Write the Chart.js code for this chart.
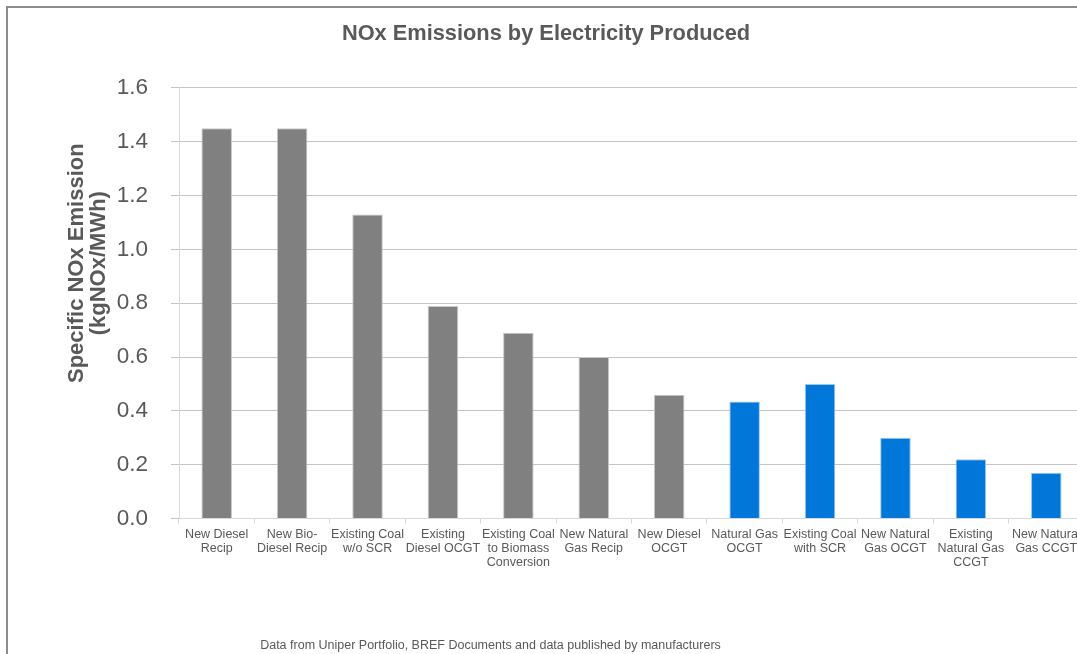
<!DOCTYPE html>
<html>
<head>
<meta charset="utf-8">
<script src="https://cdn.jsdelivr.net/npm/chart.js@4.4.1/dist/chart.umd.min.js"></script>
<style>
  html, body { margin: 0; padding: 0; background: #fff; width: 1077px; height: 654px; overflow: hidden; }
  #frame { position: absolute; left: 6px; top: 6px; width: 1110px; height: 700px; border: 2px solid #8c8c8c; box-sizing: border-box; }
  #chart { position: absolute; left: 8px; top: 8px; }
  #source { position: absolute; left: 0; top: 638px; width: 981px; text-align: center;
            font: 12.5px "Liberation Sans", Arial, sans-serif; color: #595959; white-space: nowrap; }
</style>
</head>
<body>
<div id="frame"></div>
<canvas id="chart" width="1078" height="646"></canvas>
<div id="source">Data from Uniper Portfolio, BREF Documents and data published by manufacturers</div>
<script>
// Generation technologies (multi-line axis labels)
const categories = [
  ['New Diesel', 'Recip'],
  ['New Bio-', 'Diesel Recip'],
  ['Existing Coal', 'w/o SCR'],
  ['Existing', 'Diesel OCGT'],
  ['Existing Coal', 'to Biomass', 'Conversion'],
  ['New Natural', 'Gas Recip'],
  ['New Diesel', 'OCGT'],
  ['Natural Gas', 'OCGT'],
  ['Existing Coal', 'with SCR'],
  ['New Natural', 'Gas OCGT'],
  ['Existing', 'Natural Gas', 'CCGT'],
  ['New Natural', 'Gas CCGT']
];

// Specific NOx emission, kgNOx/MWh
const noxEmission = [1.45, 1.45, 1.13, 0.79, 0.69, 0.60, 0.46, 0.435, 0.50, 0.30, 0.22, 0.17];

// Technologies with low-NOx firing / abatement (drawn in blue)
const lowNOx = [false, false, false, false, false, false, false, true, true, true, true, true];

// Value axis ticks
const yTicks = [0.0, 0.2, 0.4, 0.6, 0.8, 1.0, 1.2, 1.4, 1.6];

const yTitleLines = ['Specific NOx Emission', '(kgNOx/MWh)'];

const GREY = '#808080';
const BLUE = '#0277DA';
const TEXT = '#595959';
const FONT = '"Liberation Sans", Arial, sans-serif';

// Rotated two-line value-axis title
const yTitlePlugin = {
  id: 'yTitle',
  afterDraw(chart) {
    const { ctx, chartArea } = chart;
    const cy = chartArea.top + (chartArea.bottom - chartArea.top) * 0.407;
    const lineGap = 22;
    const firstX = chartArea.left - 102;
    ctx.save();
    ctx.fillStyle = TEXT;
    ctx.font = 'bold 22px ' + FONT;
    ctx.textAlign = 'center';
    ctx.textBaseline = 'middle';
    yTitleLines.forEach((line, i) => {
      ctx.save();
      ctx.translate(firstX + i * lineGap, cy);
      ctx.rotate(-Math.PI / 2);
      ctx.fillText(line, 0, 0);
      ctx.restore();
    });
    ctx.restore();
  }
};

new Chart(document.getElementById('chart'), {
  type: 'bar',
  data: {
    labels: categories,
    datasets: [{
      data: noxEmission,
      backgroundColor: lowNOx.map(f => f ? BLUE : GREY),
      borderColor: lowNOx.map(f => f ? '#9cc9f0' : '#c8c8c8'),
      borderWidth: 1,
      borderSkipped: 'bottom',
      barPercentage: 0.405,
      categoryPercentage: 1.0
    }]
  },
  options: {
    responsive: false,
    animation: false,
    devicePixelRatio: 1,
    layout: { padding: { left: 0, right: 2, top: 0, bottom: 0 } },
    plugins: {
      legend: { display: false },
      tooltip: { enabled: false },
      title: {
        display: true,
        text: 'NOx Emissions by Electricity Produced',
        color: TEXT,
        font: { family: FONT, size: 21.8, weight: 'bold' },
        padding: { top: 12.5, bottom: 41.3 }
      }
    },
    scales: {
      x: {
        grid: {
          offset: true,
          drawOnChartArea: false,
          drawTicks: true,
          tickLength: 5,
          color: '#d9d9d9'
        },
        border: { display: true, color: '#d9d9d9', width: 1 },
        ticks: {
          color: TEXT,
          font: { family: FONT, size: 12.5, lineHeight: 1.12 },
          maxRotation: 0,
          minRotation: 0,
          autoSkip: false,
          padding: 4
        },
        afterFit(scale) { scale.height = 135.5; }
      },
      y: {
        min: 0,
        max: 1.6,
        afterBuildTicks(scale) { scale.ticks = yTicks.map(v => ({ value: v })); },
        grid: {
          color: '#c4c4c4',
          drawTicks: true,
          tickLength: 8
        },
        border: { display: true, color: '#d9d9d9', width: 1 },
        ticks: {
          color: TEXT,
          font: { family: FONT, size: 22.5 },
          padding: 23,
          callback: v => Number(v).toFixed(1)
        },
        afterFit(scale) { scale.width = 171; }
      }
    }
  },
  plugins: [yTitlePlugin]
});
</script>
</body>
</html>
